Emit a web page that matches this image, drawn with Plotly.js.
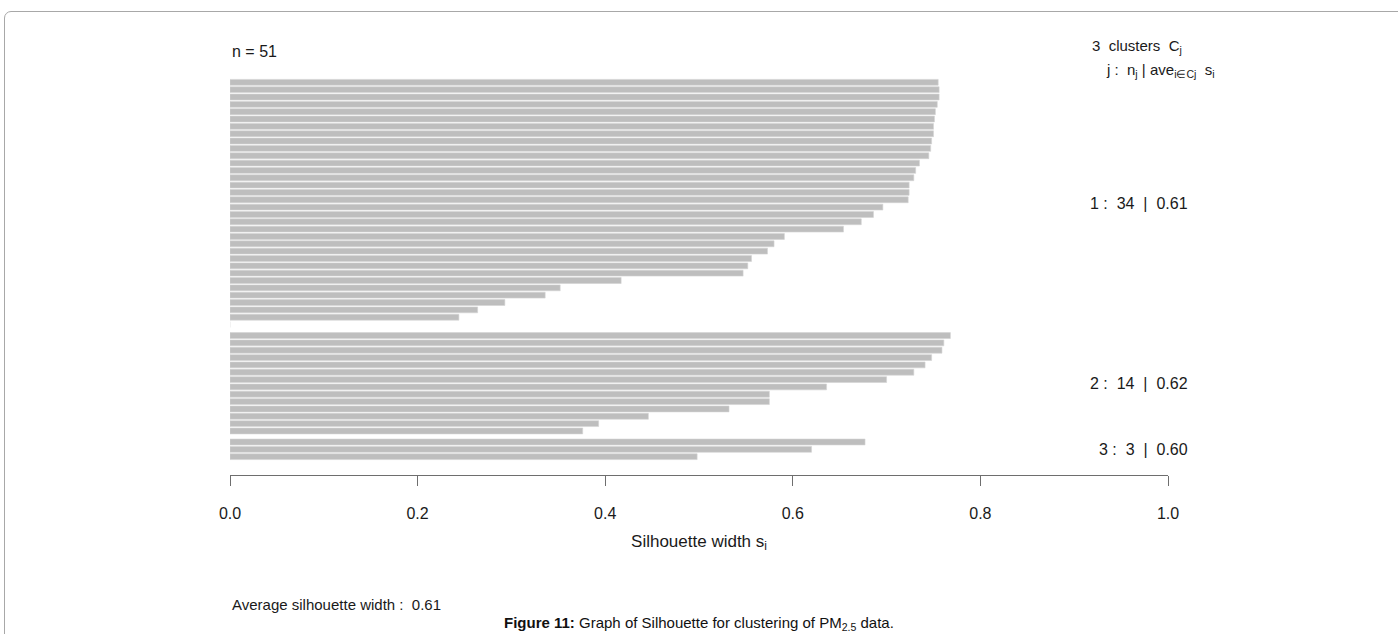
<!DOCTYPE html>
<html>
<head>
<meta charset="utf-8">
<script src="https://cdn.plot.ly/plotly-3.0.1.min.js"></script>
<style>
  html, body { margin: 0; padding: 0; background: #fff; }
  #wrap { position: relative; width: 1398px; height: 634px; overflow: hidden; }
  #chart { position: absolute; left: 0; top: 0; width: 1398px; height: 634px; }
  #frame { position: absolute; left: 4px; top: 11px; width: 1420px; height: 660px;
           border: 1px solid #a8a8a8; border-top-left-radius: 7px; pointer-events: none; }
</style>
</head>
<body>
<div id="wrap">
  <div id="chart"></div>
  <div id="frame"></div>
</div>
<script>
// Silhouette widths per cluster (sorted decreasing within cluster)
const cluster1 = [0.755, 0.756, 0.756, 0.754, 0.752, 0.751, 0.750, 0.750, 0.748, 0.747, 0.745,
                  0.735, 0.731, 0.729, 0.724, 0.724, 0.723, 0.696, 0.686, 0.673, 0.654,
                  0.591, 0.580, 0.573, 0.556, 0.552, 0.547, 0.417, 0.352, 0.336, 0.293,
                  0.264, 0.244, -0.002];
const cluster2 = [0.768, 0.761, 0.759, 0.748, 0.741, 0.729, 0.700, 0.636, 0.575, 0.575,
                  0.532, 0.446, 0.393, 0.376];
const cluster3 = [0.677, 0.620, 0.498];
const clusterNames = ["1", "2", "3"];
const clusterSizes = ["34", "14", "3"];
const clusterAvg = ["0.61", "0.62", "0.60"];
const avgWidth = "0.61";
const nObs = "51";
const xTicks = [0, 0.2, 0.4, 0.6, 0.8, 1.0];
const xTickLabels = ["0.0", "0.2", "0.4", "0.6", "0.8", "1.0"];

const clusters = [cluster1, cluster2, cluster3];
const GAP = 0.5; // extra space between clusters (as in R's plot.silhouette)
let xs = [], ys = [], mids = [];
let pos = 0;
clusters.forEach((vals, ci) => {
  if (ci > 0) pos += GAP;
  const start = pos;
  vals.forEach(v => { xs.push(v); ys.push(pos); pos += 1; });
  mids.push((start + pos - 1) / 2);
});
const lastPos = pos - 1;

const FONT = "Liberation Sans, Arial, Helvetica, sans-serif";
const NB = "\u00a0";
const TXT = "#1a1a1a";

const trace = {
  type: "bar",
  orientation: "h",
  x: xs,
  y: ys,
  width: 0.8,
  marker: { color: "#bebebe", line: { color: "#d4d4d4", width: 0.6 } },
  hoverinfo: "x",
  showlegend: false
};

const annotations = [];
annotations.push({ xref: "x", yref: "paper", x: 0, y: 1.0575, xanchor: "left", yanchor: "middle",
  text: "n = " + nObs, showarrow: false, font: { family: FONT, size: 16, color: TXT } });
annotations.push({ xref: "x", yref: "paper", x: 0.917, y: 1.07, xanchor: "left", yanchor: "middle",
  text: "3" + NB + NB + "clusters" + NB + NB + "C<sub>j</sub>", showarrow: false,
  font: { family: FONT, size: 15, color: TXT } });
annotations.push({ xref: "x", yref: "paper", x: 0.932, y: 1.0125, xanchor: "left", yanchor: "middle",
  text: "j" + NB + ":" + NB + " n<sub>j</sub> | ave<sub>i∈Cj</sub>" + NB + " s<sub>i</sub>",
  showarrow: false, font: { family: FONT, size: 15, color: TXT } });
clusterNames.forEach((nm, i) => {
  annotations.push({ xref: "paper", yref: "y", x: 1.0235, y: mids[i], xanchor: "right", yanchor: "middle",
    text: nm + NB + ":" + NB + NB + clusterSizes[i] + NB + NB + "|" + NB + NB + clusterAvg[i],
    showarrow: false, font: { family: FONT, size: 16, color: TXT } });
});
annotations.push({ xref: "x", yref: "paper", x: 0, y: -0.3225, xanchor: "left", yanchor: "middle",
  text: "Average silhouette width" + NB + ":" + NB + NB + avgWidth, showarrow: false,
  font: { family: FONT, size: 15, color: TXT } });
annotations.push({ xref: "paper", yref: "paper", x: 0.5, y: -0.372, xanchor: "center", yanchor: "middle",
  text: "<b>Figure 11:</b> Graph of Silhouette for clustering of PM<sub>2.5</sub> data.", showarrow: false,
  font: { family: FONT, size: 15, color: "#111" } });

const layout = {
  width: 1398, height: 634,
  margin: { l: 230, r: 230, t: 75, b: 159, pad: 0 },
  paper_bgcolor: "rgba(0,0,0,0)", plot_bgcolor: "rgba(0,0,0,0)",
  bargap: 0,
  xaxis: {
    range: [0, 1], tickvals: xTicks, ticktext: xTickLabels,
    showline: true, linecolor: "#6e6e6e", linewidth: 1.3,
    ticks: "outside", ticklen: 10, tickcolor: "#6e6e6e", tickwidth: 1,
    showgrid: false, zeroline: false,
    ticklabelstandoff: 13,
    tickfont: { family: FONT, size: 16, color: TXT },
    title: { text: "Silhouette width s<sub>i</sub>", font: { family: FONT, size: 17, color: TXT }, standoff: 14 },
    fixedrange: true
  },
  yaxis: {
    range: [lastPos + 2.5, -1], visible: false, fixedrange: true
  },
  annotations: annotations
};

Plotly.newPlot("chart", [trace], layout, { displayModeBar: false, staticPlot: true });
</script>
</body>
</html>
